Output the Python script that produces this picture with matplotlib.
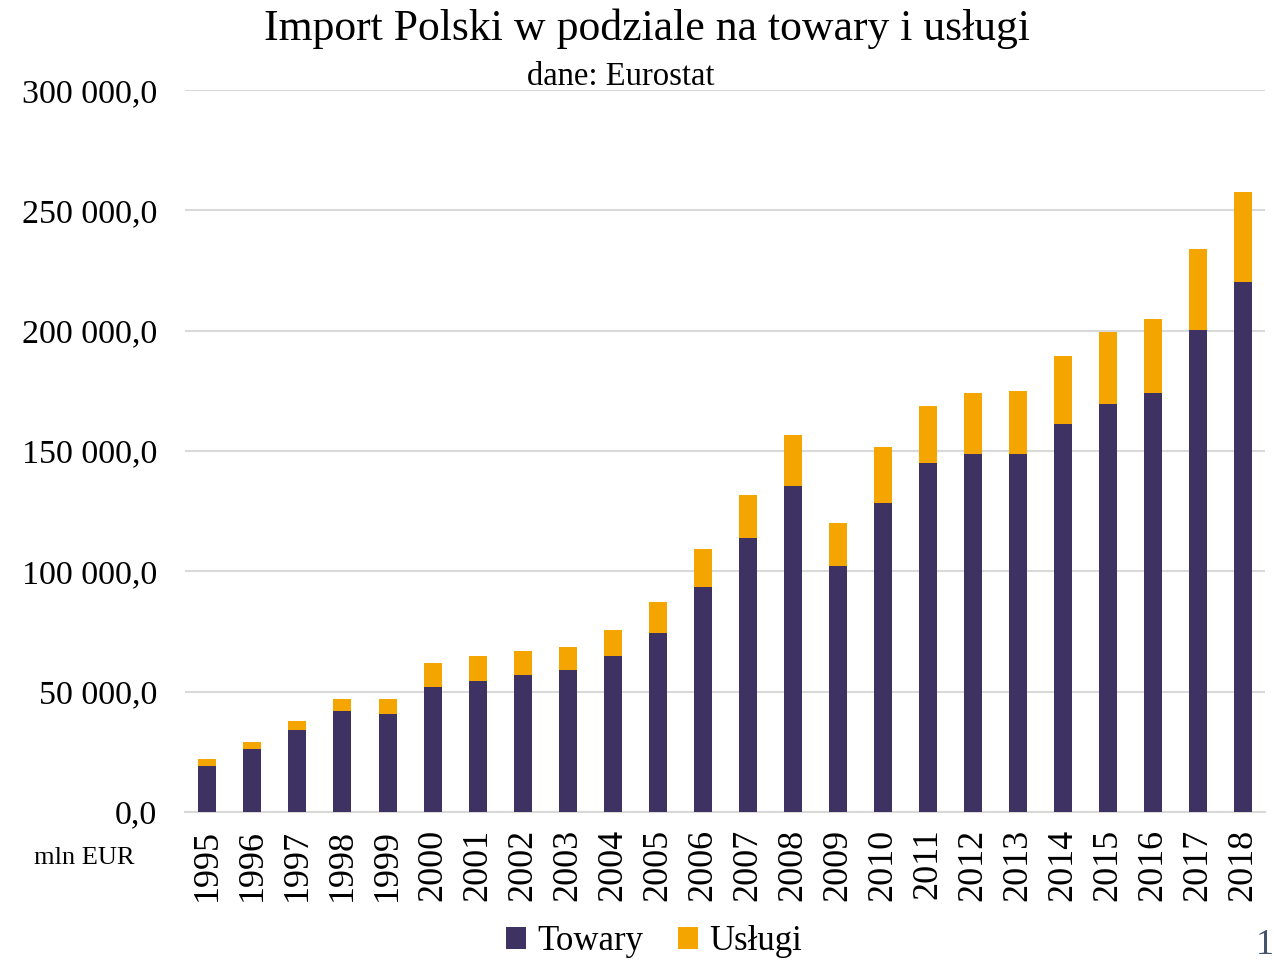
import matplotlib.pyplot as plt
import numpy as np
from matplotlib.ticker import FuncFormatter

plt.rcParams['font.family'] = ['Liberation Serif', 'DejaVu Serif']

# values in mln EUR
years = [str(y) for y in range(1995, 2019)]
towary = [19100, 26200, 34100, 42000, 40700, 51900, 54400, 56900, 59000, 64800,
          74400, 93500, 113800, 135500, 102200, 128400, 145000, 148800, 148800,
          161200, 169500, 174100, 200300, 220200]
razem = [22000, 29100, 37800, 47000, 47000, 61900, 64800, 66900, 68600, 75600,
         87300, 109300, 131700, 156600, 120100, 151700, 168700, 174100, 174900,
         189500, 199400, 204800, 233900, 257600]
uslugi = [r - t for r, t in zip(razem, towary)]

c_tow = '#3d3261'
c_usl = '#f5a500'

fig = plt.figure(figsize=(12.74, 9.6), dpi=100)
ax = fig.add_axes([0.1452, 0.1542, 0.8478, 0.7520])

x = np.arange(len(years))
ax.bar(x, towary, width=0.4, color=c_tow, label='Towary', zorder=3)
ax.bar(x, uslugi, width=0.4, bottom=towary, color=c_usl, label='Usługi', zorder=3)

ax.set_xlim(-0.5, len(years) - 0.5)
ax.set_ylim(0, 300000)
ax.set_yticks(np.arange(0, 300001, 50000))
ax.yaxis.set_major_formatter(FuncFormatter(lambda v, p: f'{v:,.1f}'.replace(',', ' ').replace('.', ',')))
ax.grid(axis='y', color='#d9d9d9', linewidth=1.5, zorder=0)
ax.set_xticks(x)
ax.set_xticklabels(years, rotation=90, fontsize=26)
ax.tick_params(axis='y', labelsize=24.5, length=0, pad=20)
ax.tick_params(axis='x', length=0, pad=12)
for s in ['top', 'right', 'left']:
    ax.spines[s].set_visible(False)
ax.spines['bottom'].set_color('#d9d9d9')
ax.spines['bottom'].set_linewidth(1.5)

fig.text(0.508, 0.970, 'Import Polski w podziale na towary i usługi', ha='center', va='center', fontsize=31.5)
fig.text(0.487, 0.920, 'dane: Eurostat', ha='center', va='center', fontsize=23.5)
fig.text(0.066, 0.106, 'mln EUR', ha='center', va='center', fontsize=19)
fig.text(0.986, 0.015, '1', ha='left', va='center', fontsize=26, color='#44546a')

fig.legend(loc='center', bbox_to_anchor=(0.513, 0.019), ncol=2, frameon=False, fontsize=25,
           handlelength=0.6, handleheight=0.6, handletextpad=0.3, columnspacing=1.0)

fig.savefig('out.png', dpi=100)
